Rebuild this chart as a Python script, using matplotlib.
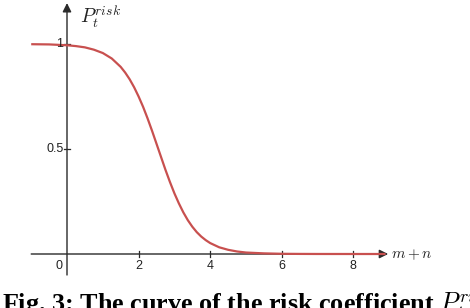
import matplotlib
matplotlib.use("Agg")
import matplotlib.pyplot as plt

# data
x_vals = [-1, -0.5, 0, 0.25, 0.5, 0.75, 1, 1.25, 1.5, 1.625, 1.75, 1.875, 2,
          2.125, 2.25, 2.375, 2.5, 2.625, 2.75, 2.875, 3, 3.125, 3.25, 3.375,
          3.5, 3.625, 3.75, 3.875, 4, 4.25, 4.5, 4.75, 5, 5.5, 6, 6.5, 7, 8, 8.9]
p_risk = [0.999, 0.998, 0.994, 0.990, 0.984, 0.973, 0.957, 0.931, 0.891, 0.864,
          0.832, 0.794, 0.750, 0.701, 0.646, 0.587, 0.525, 0.463, 0.401, 0.343,
          0.289, 0.241, 0.198, 0.161, 0.130, 0.104, 0.083, 0.066, 0.052, 0.032,
          0.020, 0.012, 0.007, 0.003, 0.001, 0.0004, 0.0001, 0.0, 0.0]
x_ticks = [0, 2, 4, 6, 8]
x_tick_labels = ["0", "2", "4", "6", "8"]
y_ticks = [0.5, 1]
y_tick_labels = ["0.5", "1"]

plt.rcParams['mathtext.fontset'] = 'cm'

W, H = 470, 308
fig = plt.figure(figsize=(W / 100, H / 100), dpi=100)
ax = fig.add_axes([0, 0, 1, 1])
ax.axis('off')
# pixel mapping: x px = 67 + 35.8*x ; y px = 254 - 210*y
sx, ox = 35.8, 67
sy, oy = 210, 254
ax.set_xlim(-ox / sx, (W - ox) / sx)
ax.set_ylim((oy - H) / sy, oy / sy)

axc = '#2a2a2a'
# axes with arrows
ax.annotate('', xy=(8.97, 0), xytext=(-1.0, 0),
            arrowprops=dict(arrowstyle='-|>', color=axc, lw=1.0,
                            mutation_scale=13, shrinkA=0, shrinkB=0))
ax.annotate('', xy=(0, 1.195), xytext=(0, -0.1),
            arrowprops=dict(arrowstyle='-|>', color=axc, lw=1.0,
                            mutation_scale=13, shrinkA=0, shrinkB=0))

# ticks
tx = 3.0 / sy
for t in x_ticks[1:]:
    ax.plot([t, t], [-tx, tx], color=axc, lw=0.9)
ty = 3.0 / sx
for t in y_ticks:
    ax.plot([-ty, ty], [t, t], color=axc, lw=0.9)

# curve
ax.plot(x_vals, p_risk, color='#c8504f', lw=1.6, solid_capstyle='butt',
        solid_joinstyle='round', zorder=3)

# tick labels
for t, lab in zip(x_ticks, x_tick_labels):
    xx = t if t != 0 else -0.22
    ax.text(xx, -0.03, lab, ha='center', va='top', fontsize=9,
            family='Liberation Sans', color='#222222')
for t, lab in zip(y_ticks, y_tick_labels):
    ax.text(-0.1, t, lab, ha='right', va='center', fontsize=9,
            family='Liberation Sans', color='#222222')

# axis labels
ax.text(0.35, 1.13, r'$P_t^{risk}$', fontsize=14, ha='left', va='center',
        color='#222222')
ax.text(9.05, 0.0, r'$m+n$', fontsize=11, ha='left', va='center',
        color='#222222')

# caption
fig.text(0.004, -4.0 / H, r'Fig. 3: The curve of the risk coefficient $P_t^{risk}$',
         fontsize=18.8, fontweight='bold', family='Liberation Serif',
         ha='left', va='baseline', color='black')

fig.savefig('out.png', dpi=100)
